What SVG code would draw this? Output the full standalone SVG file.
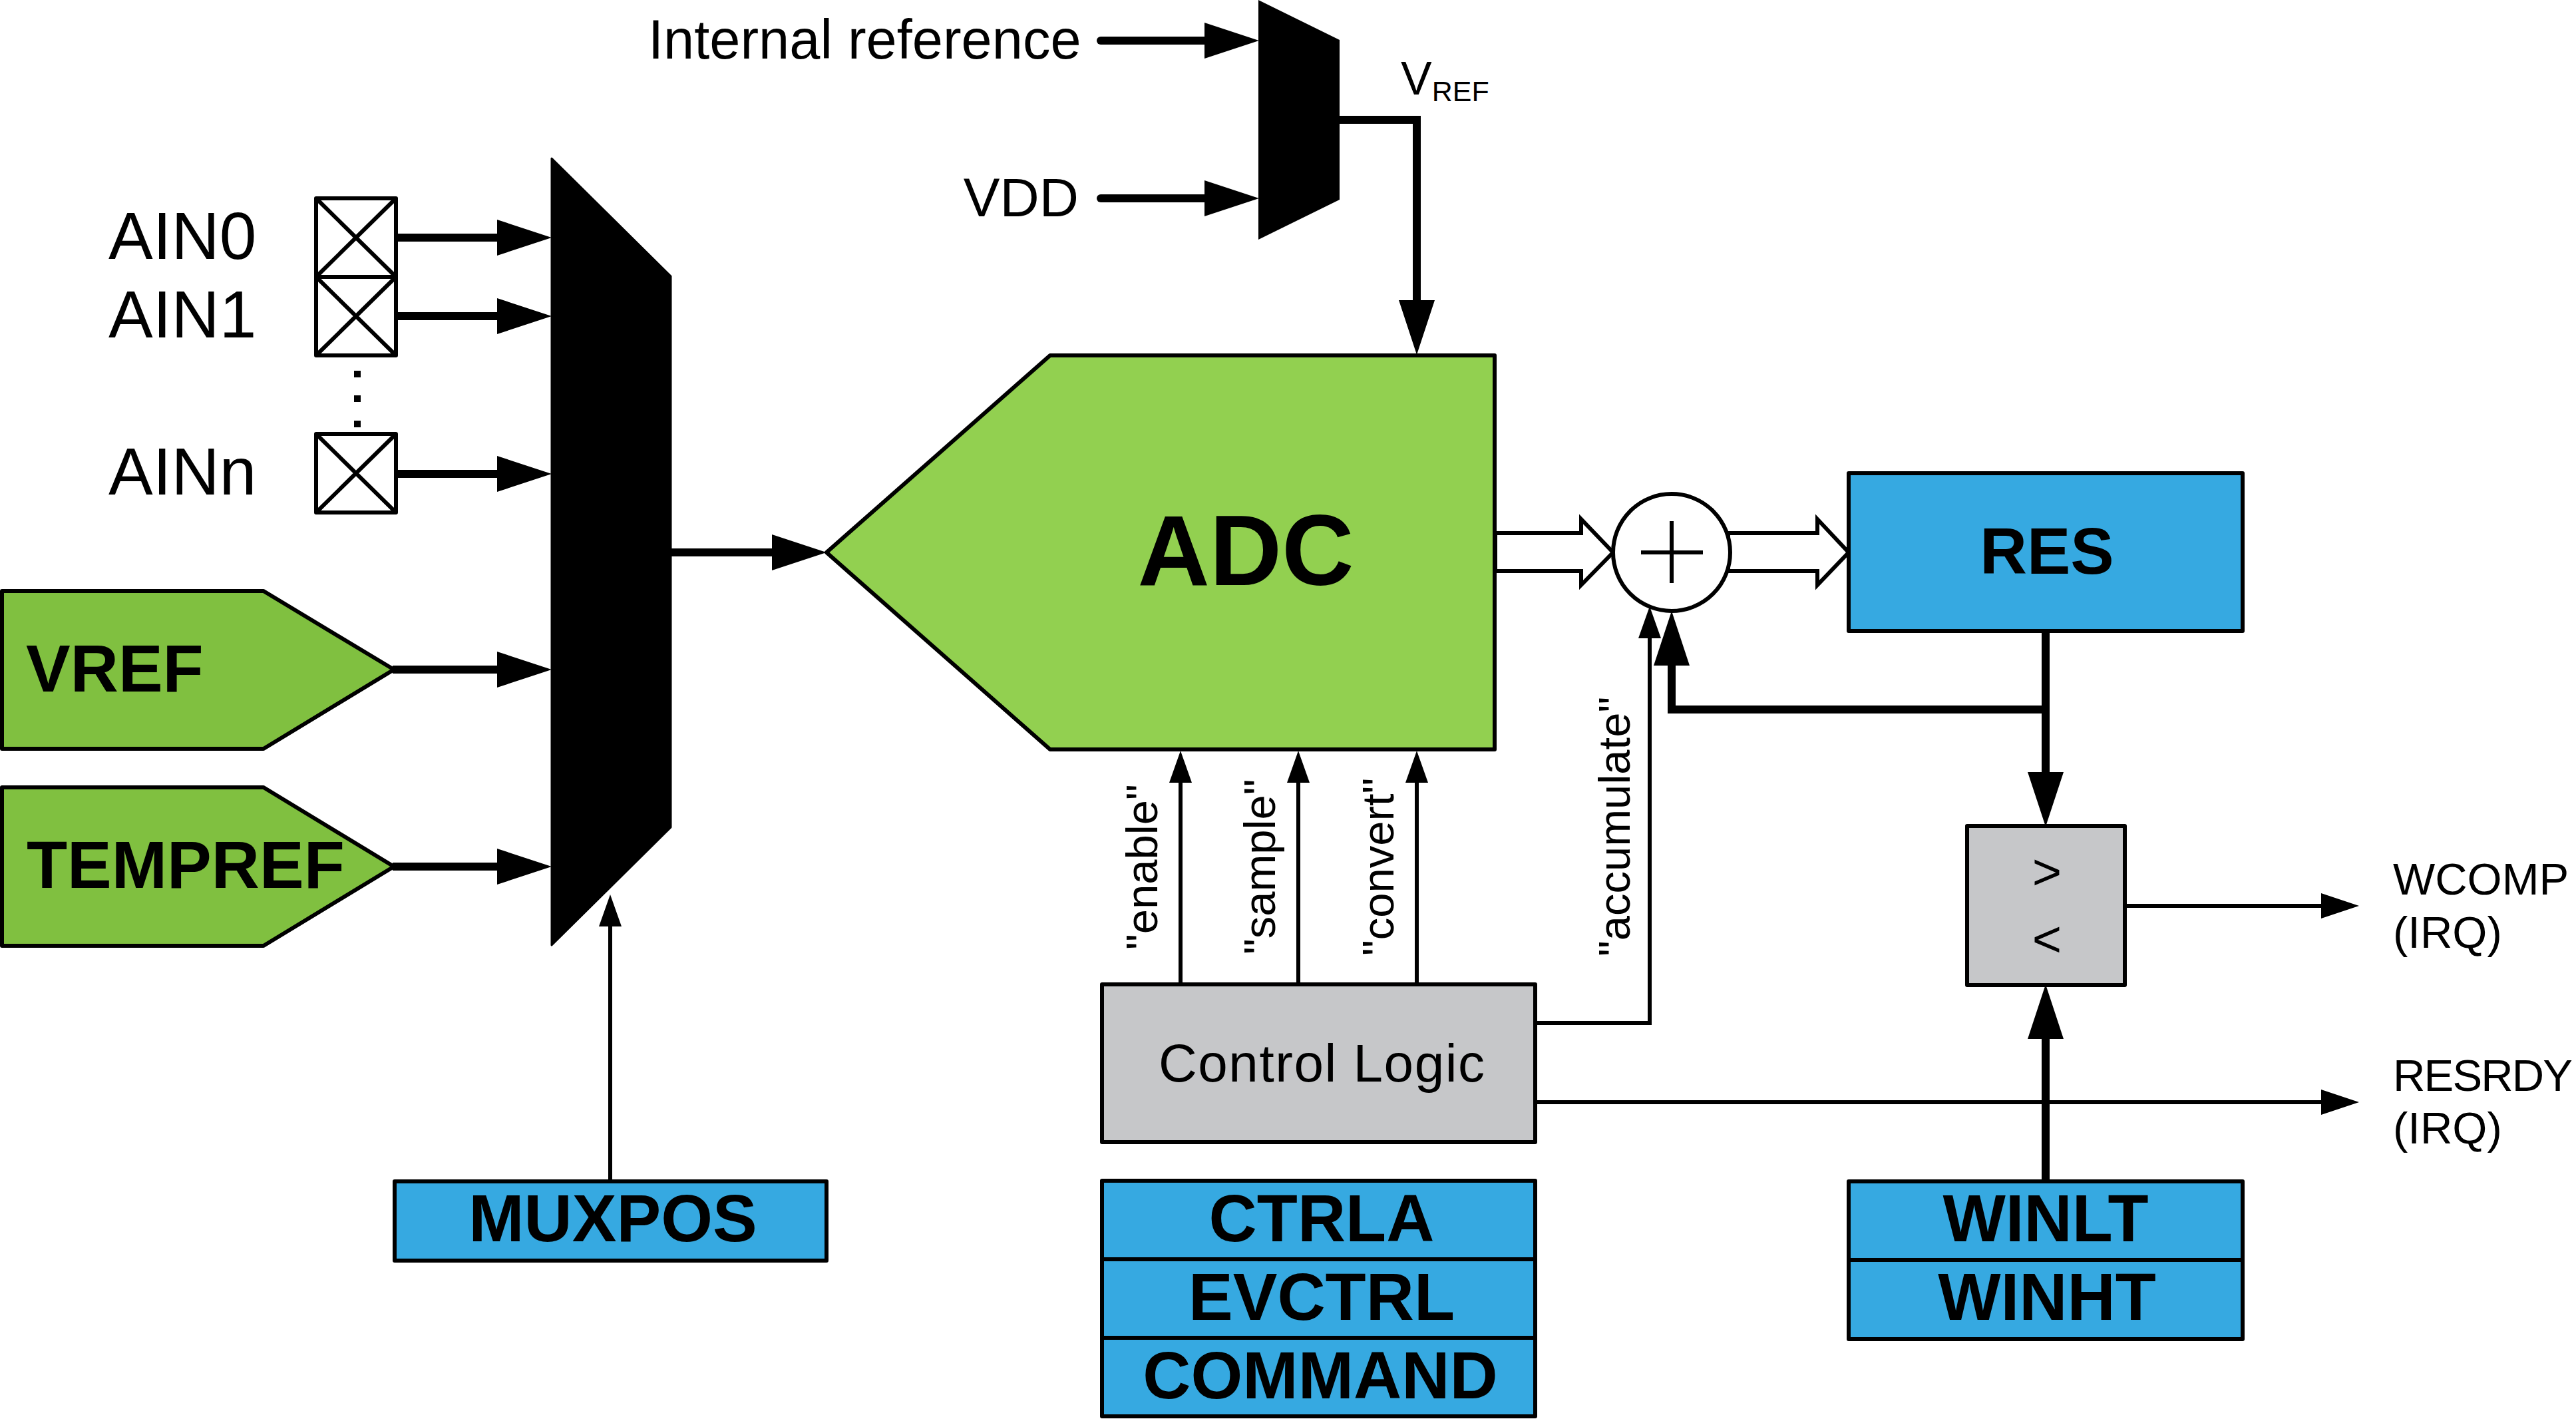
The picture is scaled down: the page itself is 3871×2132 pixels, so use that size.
<svg xmlns="http://www.w3.org/2000/svg" width="3871" height="2132" viewBox="0 0 3871 2132">
<style>
text{font-family:"Liberation Sans",Arial,sans-serif;fill:#000}
.b{font-weight:bold;font-size:100px}
.m{text-anchor:middle}
.box{stroke:#000;stroke-width:6;stroke-linejoin:round}
.blue{fill:#36a9e1}.gray{fill:#c6c7c9}.white{fill:#fff}
.thin{fill:none;stroke:#000;stroke-width:6}
.thick{fill:none;stroke:#000;stroke-width:12}
.big{marker-end:url(#ab)}
.sm{marker-end:url(#as)}
.irq{marker-end:url(#ai)}
.lab{font-size:100px}.sig{font-size:67px}.irqt{font-size:67px}
</style>
<defs>
<marker id="ab" markerUnits="userSpaceOnUse" markerWidth="82" markerHeight="56" viewBox="0 0 82 56" refX="1" refY="28" orient="auto"><path d="M0 1L82 28L0 55Z"/></marker>
<marker id="as" markerUnits="userSpaceOnUse" markerWidth="48" markerHeight="36" viewBox="0 0 48 36" refX="1" refY="18" orient="auto"><path d="M0 1L48 18L0 35Z"/></marker>
<marker id="ai" markerUnits="userSpaceOnUse" markerWidth="57" markerHeight="38" viewBox="0 0 57 38" refX="1" refY="19" orient="auto"><path d="M0 0L57 19L0 38Z"/></marker>
</defs>
<rect width="3871" height="2132" fill="#fff"/>
<g id="connectors">
<path class="thick big" d="M595 357H748"/>
<path class="thick big" d="M595 475H748"/>
<path class="thick big" d="M595 712H748"/>
<path class="thick big" d="M590 1006H748"/>
<path class="thick big" d="M590 1302H748"/>
<path class="thick big" d="M1007 830H1161"/>
<path class="thin sm" d="M917 1775V1391"/>
<path class="thick big" stroke-linecap="round" d="M1654 61H1811"/>
<path class="thick big" stroke-linecap="round" d="M1654 298H1811"/>
<path class="thick big" d="M2013 180H2129V452"/>
<path class="thin sm" d="M1774 1479V1175"/>
<path class="thin sm" d="M1951 1479V1175"/>
<path class="thin sm" d="M2129 1479V1175"/>
<path class="thin sm" d="M2307 1537H2479V958"/>
<path class="thin irq" d="M2307 1656H3489"/>
<path class="thin irq" d="M3193 1361H3489"/>
<path class="thick big" d="M3074 948V1161"/>
<path class="thick big" d="M3074 1066H2512V999"/>
<path class="thick big" d="M3074 1775V1560"/>
<path class="thin white" d="M2247 801H2376V780L2424 830L2376 879V858H2247Z"/>
<path class="thin white" d="M2597 801H2731V780L2778 830L2731 879V858H2597Z"/>
</g>
<g id="mux-main"><path d="M829 238L1008 415V1243L829 1420Z" stroke="#000" stroke-width="3" stroke-linejoin="round"/></g>
<g id="mux-vref"><path d="M1891 0L2013 60V300L1891 360Z" fill="#000"/></g>
<g id="ain0"><text class="lab" x="163" y="389">AIN0</text><path class="box white" d="M475 298H595V416H475ZM475 298L595 416M595 298L475 416"/></g>
<g id="ain1"><text class="lab" x="163" y="507">AIN1</text><path class="box white" d="M475 416H595V534H475ZM475 416L595 534M595 416L475 534"/></g>
<g id="dots"><rect x="532" y="557" width="10" height="10"/><rect x="532" y="594" width="10" height="10"/><rect x="532" y="632" width="10" height="10"/></g>
<g id="ainn"><text class="lab" x="163" y="743">AINn</text><path class="box white" d="M475 652H595V770H475ZM475 652L595 770M595 652L475 770"/></g>
<g id="vref"><path class="box" fill="#80c040" d="M3 888H396L592 1006L396 1125H3Z"/><text class="b" x="39" y="1039">VREF</text></g>
<g id="tempref"><path class="box" fill="#80c040" d="M3 1183H396L592 1302L396 1421H3Z"/><text class="b" x="40" y="1334">TEMPREF</text></g>
<g id="adc"><path class="box" fill="#92d050" d="M1242 830L1578 534H2246V1126H1578Z"/><text x="1872" y="879" class="m" font-weight="bold" font-size="150">ADC</text></g>
<g id="adder"><circle cx="2512" cy="830" r="88" class="box white"/><path class="thin" d="M2466 830H2559M2512 783V876"/></g>
<g id="res"><rect x="2778" y="711" width="592" height="237" class="box blue"/><text class="m" font-weight="bold" font-size="98" x="3076" y="862">RES</text></g>
<g id="comparator"><rect x="2956" y="1241" width="237" height="239" class="box gray"/><text x="3076" y="1336" class="m" font-size="76">&gt;</text><text x="3076" y="1437" class="m" font-size="76">&lt;</text></g>
<g id="control"><rect x="1656" y="1479" width="651" height="237" class="box gray"/><text x="1741" y="1625" font-size="80" textLength="490">Control Logic</text></g>
<g id="muxpos"><rect x="593" y="1775" width="649" height="119" class="box blue"/><text class="b m" x="921" y="1865">MUXPOS</text></g>
<g id="ctrla"><rect x="1656" y="1774" width="651" height="118" class="box blue"/><text class="b m" x="1986" y="1865">CTRLA</text></g>
<g id="evctrl"><rect x="1656" y="1892" width="651" height="118" class="box blue"/><text class="b m" x="1986" y="1983">EVCTRL</text></g>
<g id="command"><rect x="1656" y="2010" width="651" height="118" class="box blue"/><text class="b m" x="1984" y="2101">COMMAND</text></g>
<g id="winlt"><rect x="2778" y="1775" width="592" height="118" class="box blue"/><text class="b m" x="3074" y="1865">WINLT</text></g>
<g id="winht"><rect x="2778" y="1893" width="592" height="119" class="box blue"/><text class="b m" x="3076" y="1983">WINHT</text></g>
<g id="labels">
<text x="974" y="88" font-size="83">Internal reference</text>
<text x="1621" y="325" font-size="82" text-anchor="end">VDD</text>
<text x="2105" y="142" font-size="70">V<tspan font-size="43" dy="10">REF</tspan></text>
<text class="sig" transform="translate(1739 1427) rotate(-90)">"enable"</text>
<text class="sig" transform="translate(1916 1434) rotate(-90)">"sample"</text>
<text class="sig" transform="translate(2094 1436) rotate(-90)">"convert"</text>
<text class="sig" transform="translate(2449 1437) rotate(-90)">"accumulate"</text>
<text class="irqt" x="3596" y="1344">WCOMP</text><text class="irqt" x="3596" y="1424">(IRQ)</text>
<text class="irqt" x="3596" y="1639" textLength="270">RESRDY</text><text class="irqt" x="3596" y="1718">(IRQ)</text>
</g>
</svg>
